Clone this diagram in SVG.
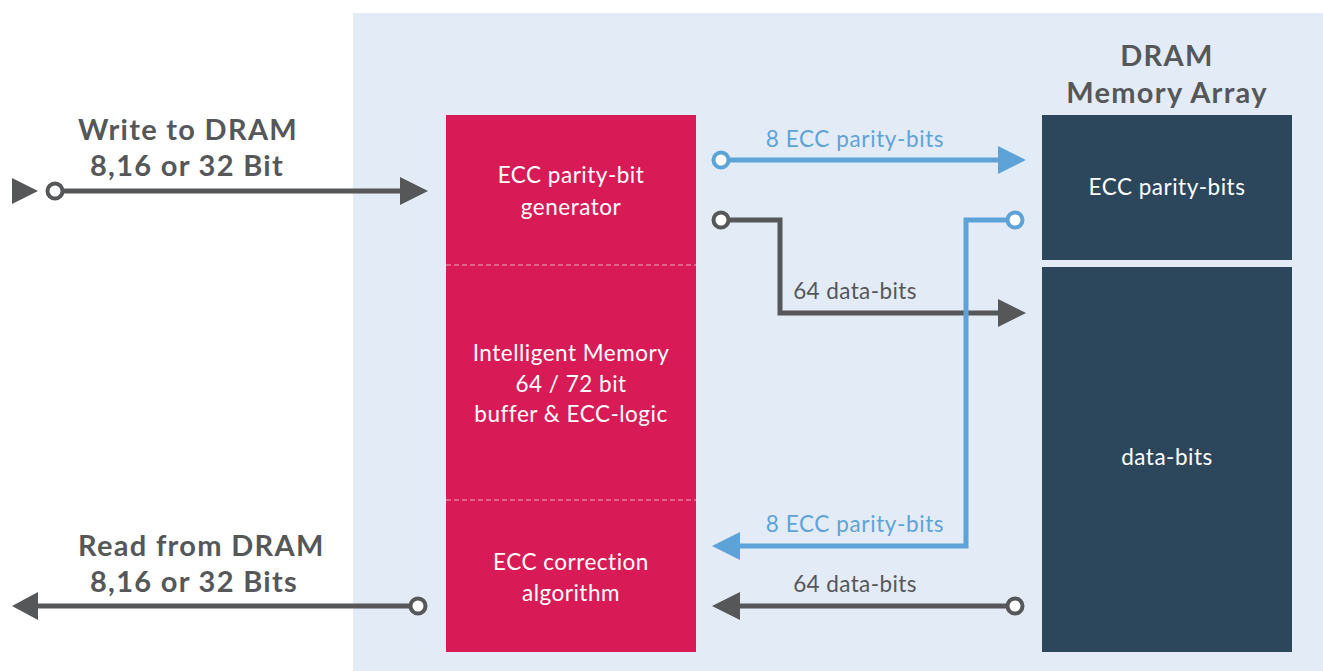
<svg xmlns="http://www.w3.org/2000/svg" width="1323" height="671" viewBox="0 0 1323 671">
<style>
.hd{font-family:Lato,"Open Sans",sans-serif;font-weight:bold;font-size:29px;letter-spacing:1.3px;fill:#555759}
.wt{font-family:Lato,"Open Sans",sans-serif;font-size:22.5px;letter-spacing:0.5px;fill:#ffffff;text-anchor:middle}
.gl{fill:none;stroke:#555759;stroke-width:5}
.bl{fill:none;stroke:#5EA3D8;stroke-width:5}
.gc{fill:#ffffff;stroke:#555759;stroke-width:4}
.bc{fill:#ffffff;stroke:#5EA3D8;stroke-width:4}
.gh{fill:#555759}
.bh{fill:#5EA3D8}
.gt{font-family:Lato,"Open Sans",sans-serif;font-size:22.5px;letter-spacing:0.4px;fill:#555759;text-anchor:middle}
.btx{font-family:Lato,"Open Sans",sans-serif;font-size:22.5px;letter-spacing:0.6px;fill:#5EA3D8;text-anchor:middle}
</style>
<rect x="0" y="0" width="1323" height="671" fill="#ffffff"/>
<rect x="353" y="13" width="970" height="658" fill="#E3EBF6"/>

<g id="ecc-unit">
<rect x="446" y="115" width="250" height="537" fill="#D81B56"/>
<line x1="446" y1="265" x2="696" y2="265" stroke="#F3A5BD" stroke-width="1.2" stroke-dasharray="5,3"/>
<line x1="446" y1="500" x2="696" y2="500" stroke="#F3A5BD" stroke-width="1.2" stroke-dasharray="5,3"/>
<text class="wt" x="571" y="183">ECC parity-bit</text>
<text class="wt" x="571" y="215">generator</text>
<text class="wt" x="571" y="361">Intelligent Memory</text>
<text class="wt" x="571" y="392">64 / 72 bit</text>
<text class="wt" x="571" y="422">buffer &amp; ECC-logic</text>
<text class="wt" x="571" y="570">ECC correction</text>
<text class="wt" x="571" y="601">algorithm</text>
</g>

<g id="dram-array">
<text class="hd" x="1167" y="66" text-anchor="middle">DRAM</text>
<text class="hd" x="1167" y="103" text-anchor="middle">Memory Array</text>
<rect x="1042" y="115" width="250" height="145" fill="#2C475C"/>
<rect x="1042" y="267" width="250" height="385" fill="#2C475C"/>
<text class="wt" x="1167" y="195">ECC parity-bits</text>
<text class="wt" x="1167" y="465">data-bits</text>
</g>

<g id="write-label">
<text class="hd" x="78" y="140">Write to DRAM</text>
<text class="hd" x="90" y="176">8,16 or 32 Bit</text>
</g>
<g id="read-label">
<text class="hd" x="78" y="556">Read from DRAM</text>
<text class="hd" x="90" y="592">8,16 or 32 Bits</text>
</g>

<g id="connectors">
<polygon class="gh" points="12,178 38,191 12,204"/>
<line class="gl" x1="62" y1="191" x2="404" y2="191"/>
<polygon class="gh" points="400,177 428,191 400,205"/>
<circle class="gc" cx="55" cy="191" r="7.5"/>

<line class="bl" x1="728" y1="160" x2="1000" y2="160"/>
<polygon class="bh" points="998,146 1026,160 998,174"/>
<circle class="bc" cx="721" cy="160" r="7.5"/>
<text class="btx" x="855" y="147">8 ECC parity-bits</text>

<polyline class="gl" points="728,220 780,220 780,313 1000,313"/>
<polygon class="gh" points="998,299 1026,313 998,327"/>
<circle class="gc" cx="721" cy="220" r="7.5"/>
<text class="gt" x="855" y="299">64 data-bits</text>

<polyline class="bl" points="1008,220 966,220 966,546 738,546"/>
<polygon class="bh" points="740,532 712,546 740,560"/>
<circle class="bc" cx="1015" cy="220" r="7.5"/>
<text class="btx" x="855" y="532">8 ECC parity-bits</text>

<line class="gl" x1="1008" y1="606" x2="738" y2="606"/>
<polygon class="gh" points="740,592 712,606 740,620"/>
<circle class="gc" cx="1015" cy="606" r="7.5"/>
<text class="gt" x="855" y="592">64 data-bits</text>

<line class="gl" x1="411" y1="606" x2="36" y2="606"/>
<polygon class="gh" points="38,592 12,606 38,620"/>
<circle class="gc" cx="418" cy="606" r="7.5"/>
</g>
</svg>
